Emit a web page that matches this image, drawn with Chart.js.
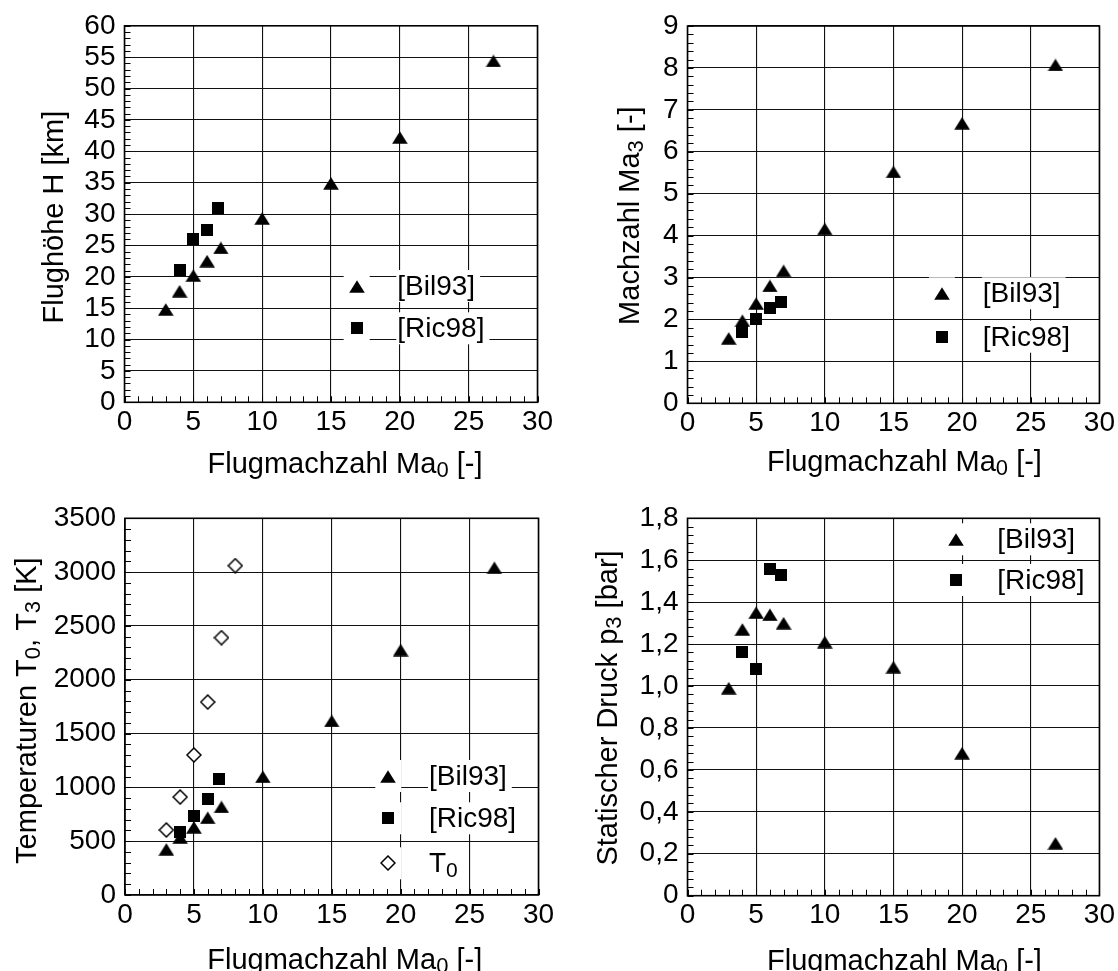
<!DOCTYPE html>
<html>
<head>
<meta charset="utf-8">
<script src="https://cdn.jsdelivr.net/npm/chart.js@4.4.1/dist/chart.umd.min.js"></script>
<style>
  html, body { margin: 0; padding: 0; background: #fff; }
  body { width: 1118px; height: 971px; position: relative; overflow: hidden; }
  canvas { position: absolute; }
</style>
</head>
<body>
<canvas id="c1" width="559" height="485" style="left:0;top:0"></canvas>
<canvas id="c2" width="559" height="485" style="left:559px;top:0"></canvas>
<canvas id="c3" width="559" height="486" style="left:0;top:485px"></canvas>
<canvas id="c4" width="559" height="486" style="left:559px;top:485px"></canvas>
<script>
// Flugmachzahl Ma0 of the data points
const machBil = [3, 4, 5, 6, 7, 10, 15, 20, 26.8];
const machRic = [4, 5, 6, 6.8];
const machT0 = [3, 4, 5, 6, 7, 8];

// Flughöhe H [km]
const heightBil = [14.8, 17.7, 20.2, 22.5, 24.6, 29.3, 34.9, 42.2, 54.4];
const heightRic = [21.1, 26.0, 27.4, 30.9];

// Machzahl Ma3 [-]
const ma3Bil = [1.55, 1.97, 2.38, 2.80, 3.16, 4.16, 5.52, 6.68, 8.07];
const ma3Ric = [1.69, 2.01, 2.27, 2.41];

// Temperaturen T0, T3 [K]
const t3Bil = [424, 533, 629, 718, 818, 1099, 1617, 2276, 3041];
const t3Ric = [582, 737, 895, 1081];
const t0Vals = [604, 910, 1301, 1793, 2391, 3060];

// Statischer Druck p3 [bar]
const p3Bil = [0.99, 1.27, 1.35, 1.34, 1.30, 1.21, 1.09, 0.68, 0.25];
const p3Ric = [1.16, 1.08, 1.56, 1.53];

// tick labels
const machTicks = ['0', '5', '10', '15', '20', '25', '30'];
const heightTicks = ['0', '5', '10', '15', '20', '25', '30', '35', '40', '45', '50', '55', '60'];
const ma3Ticks = ['0', '1', '2', '3', '4', '5', '6', '7', '8', '9'];
const tempTicks = ['0', '500', '1000', '1500', '2000', '2500', '3000', '3500'];
const pressTicks = ['0', '0,2', '0,4', '0,6', '0,8', '1,0', '1,2', '1,4', '1,6', '1,8'];

// axis titles, [text, isSubscript]
const xTitle = [['Flugmachzahl Ma', 0], ['0', 1], [' [-]', 0]];
const heightTitle = [['Flughöhe H [km]', 0]];
const ma3Title = [['Machzahl Ma', 0], ['3', 1], [' [-]', 0]];
const tempTitle = [['Temperaturen T', 0], ['0', 1], [', T', 0], ['3', 1], [' [K]', 0]];
const pressTitle = [['Statischer Druck p', 0], ['3', 1], [' [bar]', 0]];

const legendBil = [['[Bil93]', 0]];
const legendRic = [['[Ric98]', 0]];
const legendT0 = [['T', 0], ['0', 1]];

const FONT = "'Liberation Sans', Arial, Helvetica, sans-serif";

// marker shapes
function makeTriangle() {
    const c = document.createElement('canvas');
    c.width = 16; c.height = 13;
    const g = c.getContext('2d');
    g.beginPath();
    g.moveTo(8, 0.3); g.lineTo(15.8, 12.7); g.lineTo(0.2, 12.7);
    g.closePath();
    g.fillStyle = '#000';
    g.fill();
    return c;
}
function makeSquare() {
    const c = document.createElement('canvas');
    c.width = 12; c.height = 12;
    const g = c.getContext('2d');
    g.fillStyle = '#000';
    g.fillRect(0, 0, 12, 12);
    return c;
}
function makeDiamond() {
    const c = document.createElement('canvas');
    c.width = 16; c.height = 16;
    const g = c.getContext('2d');
    g.beginPath();
    g.moveTo(8, 1); g.lineTo(15, 8); g.lineTo(8, 15); g.lineTo(1, 8);
    g.closePath();
    g.fillStyle = '#fff'; g.fill();
    g.strokeStyle = '#000'; g.lineWidth = 1.5; g.stroke();
    return c;
}
const triangle = makeTriangle();
const square = makeSquare();
const diamond = makeDiamond();

// text with subscripts
function richWidth(ctx, parts, size, subSize) {
    let w = 0;
    parts.forEach(([t, sub]) => {
        ctx.font = (sub ? subSize : size) + 'px ' + FONT;
        w += ctx.measureText(t).width;
    });
    return w;
}
function drawRich(ctx, parts, x, y, size, subSize, subDrop) {
    let cx = x;
    parts.forEach(([t, sub]) => {
        ctx.font = (sub ? subSize : size) + 'px ' + FONT;
        ctx.fillText(t, cx, y + (sub ? subDrop : 0));
        cx += ctx.measureText(t).width;
    });
}

const paperPlugin = {
    id: 'paper',
    beforeDatasetsDraw(chart, args, opts) {
        const { ctx, chartArea: a, scales: { x, y } } = chart;
        ctx.save();
        ctx.strokeStyle = '#000';
        ctx.lineWidth = 1;
        ctx.beginPath();
        for (let i = 0; ; i++) {
            const v = x.min + i * opts.minorX;
            if (v > x.max + 1e-9) break;
            const px = Math.round(x.getPixelForValue(v)) + 0.5;
            ctx.moveTo(px, a.bottom);
            ctx.lineTo(px, a.bottom - 6);
        }
        for (let i = 0; ; i++) {
            const v = y.min + i * opts.minorY;
            if (v > y.max + 1e-9) break;
            const py = Math.round(y.getPixelForValue(v)) + 0.5;
            ctx.moveTo(a.left, py);
            ctx.lineTo(a.left + 6, py);
        }
        ctx.stroke();
        ctx.lineWidth = 1.6;
        ctx.strokeRect(a.left, a.top, a.right - a.left, a.bottom - a.top);
        ctx.restore();
    },
    afterDatasetsDraw(chart, args, opts) {
        const { ctx, chartArea: a } = chart;
        ctx.save();
        ctx.fillStyle = '#000';
        ctx.textBaseline = 'alphabetic';

        // legend
        const lg = opts.legend;
        lg.items.forEach((item, i) => {
            const rowY = lg.rows[i];
            const w = richWidth(ctx, item.text, 28, 21);
            ctx.fillStyle = '#fff';
            ctx.fillRect(lg.markerX - 13, rowY - 16, 26, 32);
            ctx.fillRect(lg.textX - 1, rowY - 16, w + 6, 32);
            const img = chart.data.datasets[item.ds].pointStyle;
            ctx.drawImage(img, Math.round(lg.markerX - img.width / 2), Math.round(rowY - img.height / 2));
            ctx.fillStyle = '#000';
            drawRich(ctx, item.text, lg.textX, rowY + 9, 28, 21, 5);
        });

        // x title
        const xt = opts.xTitle;
        const xw = richWidth(ctx, xt.parts, 29, 22);
        drawRich(ctx, xt.parts, (a.left + a.right) / 2 + xt.dx - xw / 2, a.bottom + xt.dy, 29, 22, 4);

        // y title
        const yt = opts.yTitle;
        const yw = richWidth(ctx, yt.parts, 29, 22);
        ctx.translate(a.left + yt.dx, (a.top + a.bottom) / 2 + yt.dy);
        ctx.rotate(-Math.PI / 2);
        drawRich(ctx, yt.parts, -yw / 2, 0, 29, 22, 4);
        ctx.restore();
    }
};

function toPoints(xs, ys) {
    return xs.map((v, i) => ({ x: v, y: ys[i] }));
}

function makeChart(id, cfg) {
    const canvas = document.getElementById(id);
    const H = canvas.height, W = canvas.width;
    const [left, top, right, bottom] = cfg.area;
    return new Chart(canvas, {
        type: 'scatter',
        data: { datasets: cfg.datasets },
        options: {
            responsive: false,
            animation: false,
            events: [],
            layout: { autoPadding: false, padding: { left: 0, top: top, right: W - right, bottom: 0 } },
            plugins: {
                legend: { display: false },
                tooltip: { enabled: false },
                paper: {
                    minorX: 1,
                    minorY: cfg.minorY,
                    legend: cfg.legend,
                    xTitle: cfg.xTitle,
                    yTitle: cfg.yTitle
                }
            },
            scales: {
                x: {
                    type: 'linear', min: 0, max: 30,
                    afterFit: s => { s.height = H - bottom; },
                    grid: { color: '#111', lineWidth: 1.1, drawTicks: false },
                    border: { display: false },
                    ticks: {
                        stepSize: 5, padding: 3, color: '#000', maxRotation: 0, autoSkip: false,
                        font: { family: FONT, size: 28 },
                        callback: (v, i) => machTicks[i]
                    }
                },
                y: {
                    type: 'linear', min: 0, max: cfg.yMax,
                    afterFit: s => { s.width = left; },
                    grid: { color: '#111', lineWidth: 1.1, drawTicks: false },
                    border: { display: false },
                    ticks: {
                        stepSize: cfg.yStep, padding: 9, color: '#000', autoSkip: false,
                        font: { family: FONT, size: 28 },
                        callback: (v, i) => cfg.yTicks[i]
                    }
                }
            }
        },
        plugins: [paperPlugin]
    });
}

function bilSet(ys) {
    return { label: '[Bil93]', data: toPoints(machBil, ys), pointStyle: triangle, pointRadius: 8 };
}
function ricSet(ys) {
    return { label: '[Ric98]', data: toPoints(machRic, ys), pointStyle: square, pointRadius: 8 };
}

makeChart('c1', {
    area: [124.5, 25, 537.5, 402.3],
    yMax: 60, yStep: 5, minorY: 1, yTicks: heightTicks,
    datasets: [bilSet(heightBil), ricSet(heightRic)],
    legend: { markerX: 356.7, textX: 397.3, rows: [286, 328.3],
              items: [{ ds: 0, text: legendBil }, { ds: 1, text: legendRic }] },
    xTitle: { parts: xTitle, dx: 14, dy: 70.4 },
    yTitle: { parts: heightTitle, dx: -61.2, dy: 3 }
});

makeChart('c2', {
    area: [128.5, 26, 542, 403.3],
    yMax: 9, yStep: 1, minorY: 0.2, yTicks: ma3Ticks,
    datasets: [bilSet(ma3Bil), ricSet(ma3Ric)],
    legend: { markerX: 382.9, textX: 423.8, rows: [293.3, 336.7],
              items: [{ ds: 0, text: legendBil }, { ds: 1, text: legendRic }] },
    xTitle: { parts: xTitle, dx: 11, dy: 68 },
    yTitle: { parts: ma3Title, dx: -49, dy: 1 }
});

makeChart('c3', {
    area: [125, 33.3, 538.5, 410],
    yMax: 3500, yStep: 500, minorY: 100, yTicks: tempTicks,
    datasets: [bilSet(t3Bil), ricSet(t3Ric),
        { label: 'T0', data: toPoints(machT0, t0Vals), pointStyle: diamond, pointRadius: 8 }],
    legend: { markerX: 388.3, textX: 429, rows: [291, 333.3, 378.3],
              items: [{ ds: 0, text: legendBil }, { ds: 1, text: legendRic }, { ds: 2, text: legendT0 }] },
    xTitle: { parts: xTitle, dx: 13, dy: 74 },
    yTitle: { parts: tempTitle, dx: -89.2, dy: 4 }
});

makeChart('c4', {
    area: [128.5, 33.3, 542, 410.7],
    yMax: 1.8, yStep: 0.2, minorY: 0.04, yTicks: pressTicks,
    datasets: [bilSet(p3Bil), ricSet(p3Ric)],
    legend: { markerX: 397, textX: 438.3, rows: [54.3, 95],
              items: [{ ds: 0, text: legendBil }, { ds: 1, text: legendRic }] },
    xTitle: { parts: xTitle, dx: 11, dy: 74 },
    yTitle: { parts: pressTitle, dx: -70.5, dy: 1 }
});
</script>
</body>
</html>
